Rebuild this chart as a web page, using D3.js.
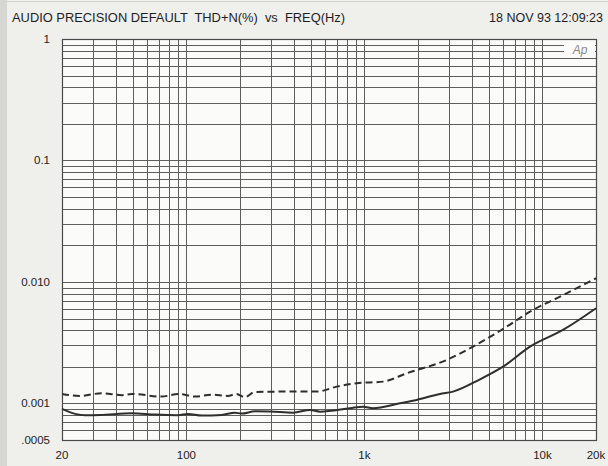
<!DOCTYPE html>
<html>
<head>
<meta charset="utf-8">
<script src="https://cdn.jsdelivr.net/npm/d3@7"></script>
<style>
  html, body { margin: 0; padding: 0; background: #efefec; }
  svg { display: block; font-family: "Liberation Sans", Arial, sans-serif; }
</style>
</head>
<body>
<div id="chart"></div>
<script>
// ----------------------------------
// DATA
// ----------------------------------
const solidFreq = [20, 23.7, 26.9, 32.7, 49.3, 66.6, 89.7, 102, 122, 158, 187, 204, 243, 295, 397, 495, 563, 830, 982, 1117, 1584, 1966, 2659, 3145, 4461, 6007, 8516, 13045, 20000];
const solidThd  = [0.000901, 0.000820, 0.000800, 0.000803, 0.000831, 0.000809, 0.000800, 0.000820, 0.000794, 0.000803, 0.000840, 0.000825, 0.000862, 0.000859, 0.000840, 0.000884, 0.000856, 0.000913, 0.000941, 0.000913, 0.001004, 0.001069, 0.001197, 0.001251, 0.001580, 0.002009, 0.002935, 0.004026, 0.006074];

const dashFreq = [20, 25.2, 33.4, 43.5, 49.3, 72.6, 89.7, 112, 139, 171, 191, 213, 243, 335, 540, 699, 905, 1277, 1729, 2899, 4075, 6299, 8516, 12556, 20000];
const dashThd  = [0.001197, 0.001153, 0.001213, 0.001169, 0.001197, 0.001138, 0.001197, 0.001138, 0.001181, 0.001153, 0.001197, 0.001125, 0.001244, 0.001251, 0.001251, 0.001375, 0.001466, 0.001512, 0.001772, 0.00228, 0.002935, 0.004285, 0.00570, 0.007568, 0.01073];

const xTickValues = [20, 100, 1000, 10000, 20000];
const xTickLabels = ['20', '100', '1k', '10k', '20k'];
const yTickValues = [1, 0.1, 0.01, 0.001, 0.0005];
const yTickLabels = ['1', '0.1', '0.010', '0.001', '.0005'];

const titleText = 'AUDIO PRECISION DEFAULT  THD+N(%)  vs  FREQ(Hz)';
const dateText = '18 NOV 93 12:09:23';

// ----------------------------------
// SETUP
// ----------------------------------
const width = 608, height = 466;
const margin = {top: 39, right: 12, bottom: 26, left: 62};
const innerWidth = width - margin.left - margin.right,
      innerHeight = height - margin.top - margin.bottom;

const svg = d3.select('#chart').append('svg')
  .attr('width', width)
  .attr('height', height);

// scanned paper edge
svg.append('rect').attr('x', 0).attr('y', 0).attr('width', 7).attr('height', height).attr('fill', '#d6d6d3');
svg.append('line').attr('x1', 7).attr('x2', width).attr('y1', 1.5).attr('y2', 1.5).attr('stroke', '#cfcfcc');

svg.append('text')
  .attr('x', 12).attr('y', 22)
  .attr('font-size', 12.5)
  .attr('fill', '#1e1e1e')
  .attr('textLength', 333)
  .attr('lengthAdjust', 'spacingAndGlyphs')
  .style('white-space', 'pre')
  .text(titleText);

svg.append('text')
  .attr('x', 603).attr('y', 22)
  .attr('text-anchor', 'end')
  .attr('font-size', 12.5)
  .attr('fill', '#1e1e1e')
  .text(dateText);

const chartInner = svg.append('g')
  .attr('transform', `translate(${margin.left}, ${margin.top})`);

// ----------------------------------
// SCALES
// ----------------------------------
const xScale = d3.scaleLog().domain([20, 20000]).range([0, innerWidth]);
const yScale = d3.scaleLog().domain([0.0005, 1]).range([innerHeight, 0]);

chartInner.append('rect')
  .attr('width', innerWidth).attr('height', innerHeight)
  .attr('fill', '#fbfbfa');

// ----------------------------------
// GRID
// ----------------------------------
const gridX = xScale.ticks().filter(d => d >= 20 && d <= 20000);
const gridY = yScale.ticks().filter(d => d >= 0.0005 && d <= 1);

chartInner.append('g').selectAll('line')
  .data(gridX)
  .join('line')
  .attr('x1', d => Math.round(xScale(d)) + 0.5)
  .attr('x2', d => Math.round(xScale(d)) + 0.5)
  .attr('y1', 0).attr('y2', innerHeight)
  .attr('stroke', '#5e5e5e').attr('stroke-width', 1);

chartInner.append('g').selectAll('line')
  .data(gridY)
  .join('line')
  .attr('y1', d => Math.round(yScale(d)) + 0.5)
  .attr('y2', d => Math.round(yScale(d)) + 0.5)
  .attr('x1', 0).attr('x2', innerWidth)
  .attr('stroke', '#5e5e5e').attr('stroke-width', 1);

chartInner.append('rect')
  .attr('x', 0.5).attr('y', 0.5)
  .attr('width', innerWidth).attr('height', innerHeight)
  .attr('fill', 'none').attr('stroke', '#4a4a4a').attr('stroke-width', 1.2);

// Ap logo box
chartInner.append('rect')
  .attr('x', innerWidth - 32).attr('y', 3)
  .attr('width', 31).attr('height', 14)
  .attr('fill', '#fbfbfa');
chartInner.append('text')
  .attr('x', innerWidth - 16).attr('y', 15)
  .attr('text-anchor', 'middle')
  .attr('font-size', 12)
  .attr('font-style', 'italic')
  .attr('fill', '#888')
  .text('Ap');

// ----------------------------------
// TICK LABELS (no axis lines, like the plotter output)
// ----------------------------------
svg.append('g').selectAll('text')
  .data(yTickValues)
  .join('text')
  .attr('x', margin.left - 12)
  .attr('y', d => margin.top + yScale(d))
  .attr('dy', '0.32em')
  .attr('text-anchor', 'end')
  .attr('font-size', 11.5)
  .attr('fill', '#222')
  .text((d, i) => yTickLabels[i]);

svg.append('g').selectAll('text')
  .data(xTickValues)
  .join('text')
  .attr('x', d => margin.left + xScale(d))
  .attr('y', margin.top + innerHeight + 19)
  .attr('text-anchor', 'middle')
  .attr('font-size', 11.5)
  .attr('fill', '#222')
  .text((d, i) => xTickLabels[i]);

// ----------------------------------
// CURVES
// ----------------------------------
const series = [
  {freq: solidFreq, thd: solidThd, dash: null},
  {freq: dashFreq, thd: dashThd, dash: '7,4'}
];

series.forEach(s => {
  const pts = s.freq.map((f, i) => [f, s.thd[i]]);
  const line = d3.line()
    .x(d => xScale(d[0]))
    .y(d => yScale(d[1]))
    .curve(d3.curveMonotoneX);
  chartInner.append('path')
    .datum(pts)
    .attr('d', line)
    .attr('fill', 'none')
    .attr('stroke', '#2e2e2e')
    .attr('stroke-width', 2)
    .attr('stroke-dasharray', s.dash)
    .attr('stroke-linecap', 'butt');
});
</script>
</body>
</html>
